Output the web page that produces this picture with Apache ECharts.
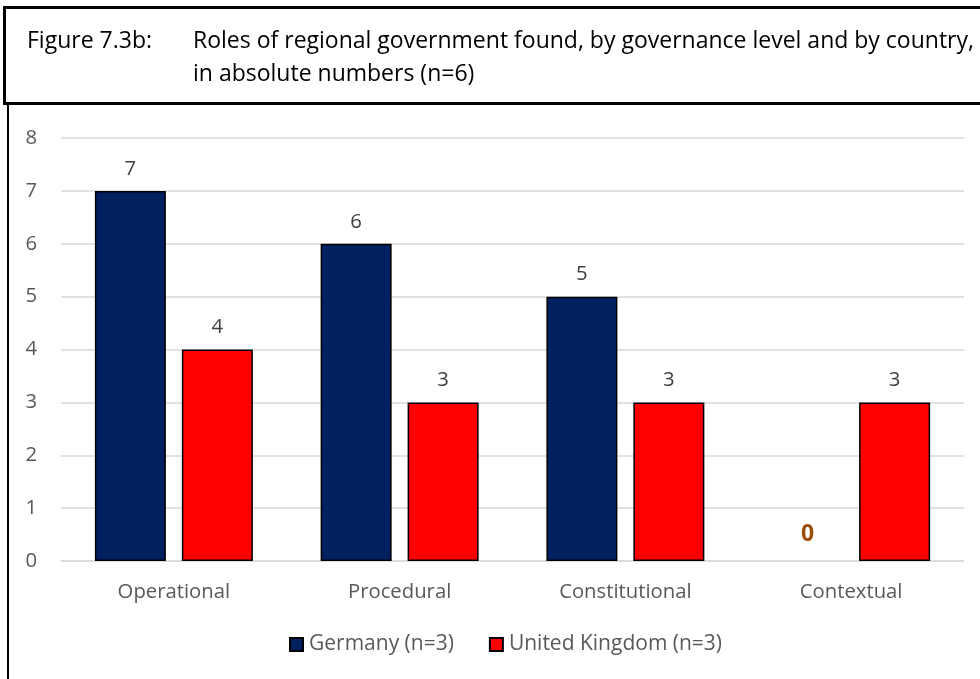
<!DOCTYPE html>
<html><head><meta charset="utf-8">
<script src="https://cdn.jsdelivr.net/npm/echarts@6/dist/echarts.min.js"></script>
<style>html,body{margin:0;padding:0;background:#fff}#c{width:980px;height:679px}</style>
</head><body><div id="c"></div>
<script>
const categories = ['Operational', 'Procedural', 'Constitutional', 'Contextual'];
const germany = [7, 6, 5, 0];
const uk = [4, 3, 3, 3];
const seriesNames = ['Germany (n=3)', 'United Kingdom (n=3)'];
const yTicks = [0, 1, 2, 3, 4, 5, 6, 7, 8];

const FONT = '"Open Sans", "Noto Sans", sans-serif';
const TFONT = '"Open Sans", "Noto Sans", sans-serif';
const chart = echarts.init(document.getElementById('c'), null, {renderer: 'canvas'});

const gData = germany.map(v => v === 0 ? {
  value: v,
  itemStyle: {borderWidth: 0},
  label: {color: '#9C4F0A', fontWeight: 'bold', fontSize: 23, distance: 15}
} : v);

chart.setOption({
  animation: false,
  title: [
    {text: 'Figure 7.3b:', left: 27, top: 25, padding: 0, textStyle: {fontFamily: TFONT, fontSize: 23, fontWeight: 'normal', color: '#000', lineHeight: 33}},
    {text: 'Roles of regional government found, by governance level and by country,\nin absolute numbers (n=6)', left: 193, top: 25, padding: 0,
     textStyle: {fontFamily: TFONT, fontSize: 23, fontWeight: 'normal', color: '#000', lineHeight: 33}}
  ],
  graphic: [
    {type: 'rect', shape: {x: 4.5, y: 7.5, width: 1000, height: 96}, style: {fill: 'none', stroke: '#000', lineWidth: 3}},
    {type: 'line', shape: {x1: 8, y1: 104, x2: 8, y2: 700}, style: {stroke: '#000', lineWidth: 2}}
  ],
  legend: {
    data: seriesNames, bottom: 19, left: 284, itemWidth: 13, itemHeight: 13, itemGap: 35,
    icon: 'rect',
    textStyle: {fontFamily: FONT, fontSize: 21, color: '#595959', padding: [0, 0, 0, 1]}
  },
  grid: {left: 61, right: 16, top: 138, bottom: 118, containLabel: false},
  xAxis: {
    type: 'category', data: categories,
    axisLine: {show: true, lineStyle: {color: '#d9d9d9', width: 1.5}},
    axisTick: {show: false},
    axisLabel: {fontFamily: FONT, fontSize: 20.3, color: '#595959', margin: 21}
  },
  yAxis: {
    type: 'value', min: yTicks[0], max: yTicks[yTicks.length - 1], interval: 1,
    axisLine: {show: false}, axisTick: {show: false},
    splitLine: {lineStyle: {color: '#d9d9d9', width: 1.5}},
    axisLabel: {fontFamily: FONT, fontSize: 20.3, color: '#595959', margin: 24}
  },
  series: [
    {name: seriesNames[0], type: 'bar', data: gData, barWidth: 71, barGap: '22.5%',
     itemStyle: {color: '#002060', borderColor: '#000', borderWidth: 1.5},
     label: {show: true, position: 'top', distance: 12, fontFamily: FONT, fontSize: 20.3, color: '#404040'}},
    {name: seriesNames[1], type: 'bar', data: uk, barWidth: 71,
     itemStyle: {color: '#FF0000', borderColor: '#000', borderWidth: 1.5},
     label: {show: true, position: 'top', distance: 12, fontFamily: FONT, fontSize: 20.3, color: '#404040'}}
  ]
});
</script></body></html>
